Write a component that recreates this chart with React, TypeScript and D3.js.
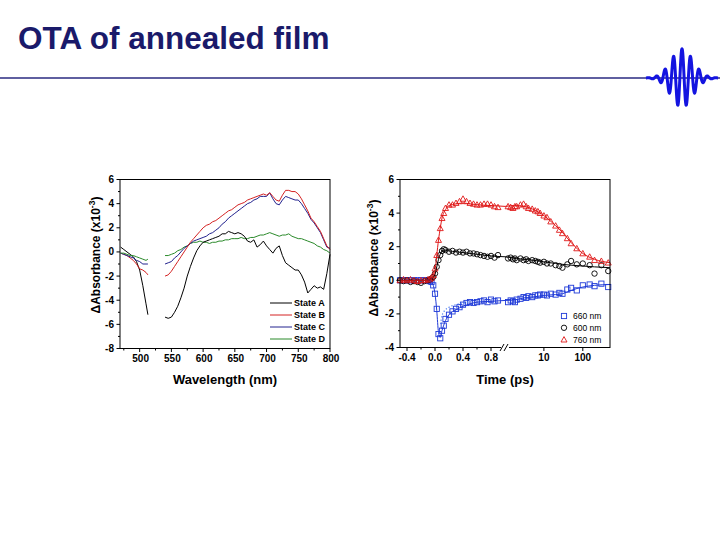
import React from "react";
import * as d3 from "d3";

// ---------- spectra (left panel) ----------
const wlSeg1 = [470, 475, 480, 485, 490, 495, 500, 505, 510, 513];
const wlSeg2 = d3.range(540, 801, 5);

const stateA1 = [0.4, 0.2, 0.0, -0.2, -0.4, -0.8, -1.5, -2.8, -4.3, -5.2];
const stateB1 = [-0.1, -0.2, -0.3, -0.5, -0.7, -1.0, -1.4, -1.5, -1.7, -1.9];
const stateC1 = [-0.1, -0.2, -0.3, -0.4, -0.5, -0.7, -0.8, -1.0, -1.0, -1.0];
const stateD1 = [-0.1, -0.1, -0.2, -0.3, -0.3, -0.4, -0.5, -0.6, -0.7, -0.6];

const stateA2 = [
  -5.4, -5.5, -5.4, -5.0, -4.5, -3.8, -3.0, -2.0, -1.2, -0.5, 0.1, 0.5, 0.8, 0.9, 1.0, 1.1, 1.2, 1.3,
  1.5, 1.5, 1.7, 1.6, 1.5, 1.6, 1.5, 1.3, 0.9, 0.8, 1.0, 0.4, 0.6, 0.9, 0.5, 0.2, -0.1, 0.3, 0.5,
  -0.3, -0.9, -1.1, -1.3, -1.5, -1.5, -1.9, -2.5, -3.4, -3.1, -2.8, -3.0, -2.9, -3.1, -1.8, -0.2,
];
const stateB2 = [
  -2.0, -1.9, -1.6, -1.2, -0.8, -0.4, 0.0, 0.4, 0.8, 1.1, 1.4, 1.7, 2.0, 2.2, 2.3, 2.5, 2.6, 2.8,
  3.0, 3.2, 3.4, 3.5, 3.7, 3.9, 4.0, 4.1, 4.3, 4.4, 4.5, 4.6, 4.7, 4.8, 4.7, 4.9, 4.6, 4.3, 4.2,
  4.7, 5.1, 5.1, 5.0, 5.0, 4.8, 4.4, 3.9, 3.4, 2.8, 2.5, 2.1, 1.7, 1.1, 0.5, 0.2,
];
const stateC2 = [
  -1.0, -0.9, -0.8, -0.5, -0.3, 0.0, 0.3, 0.5, 0.7, 0.9, 1.0, 1.1, 1.2, 1.3, 1.5, 1.6, 1.8, 2.0,
  2.3, 2.5, 2.8, 3.0, 3.2, 3.4, 3.6, 3.8, 4.0, 4.1, 4.3, 4.4, 4.6, 4.6, 4.6, 4.9, 4.4, 4.0, 3.9,
  4.3, 4.6, 4.5, 4.4, 4.3, 4.3, 4.0, 3.6, 3.2, 2.7, 2.4, 2.0, 1.6, 1.0, 0.4, 0.3,
];
const stateD2 = [
  -0.3, -0.3, -0.2, -0.1, 0.1, 0.2, 0.4, 0.5, 0.7, 0.8, 0.8, 0.9, 0.8, 0.8, 0.7, 0.8, 0.8, 0.9,
  0.9, 1.0, 1.0, 1.1, 1.1, 1.1, 1.2, 1.1, 1.1, 1.2, 1.2, 1.3, 1.4, 1.4, 1.5, 1.6, 1.5, 1.4, 1.3,
  1.4, 1.4, 1.5, 1.3, 1.2, 1.1, 1.1, 1.0, 0.9, 0.8, 0.7, 0.5, 0.4, 0.2, 0.1, -0.1,
];

const stateNames = ["State A", "State B", "State C", "State D"];
const stateColors = ["#000000", "#d42222", "#22228e", "#2a8a2a"];
const statesSeg1 = [stateA1, stateB1, stateC1, stateD1];
const statesSeg2 = [stateA2, stateB2, stateC2, stateD2];

const wlTicks = [500, 550, 600, 650, 700, 750, 800];
const absTicksLeft = [6, 4, 2, 0, -2, -4, -6, -8];

// ---------- kinetics (right panel) ----------
const tLin = [
  -0.5, -0.45, -0.4, -0.35, -0.3, -0.25, -0.2, -0.15, -0.1, -0.075, -0.05, -0.025, 0, 0.025, 0.05,
  0.075, 0.1, 0.125, 0.15, 0.2, 0.25, 0.3, 0.35, 0.4, 0.45, 0.5, 0.55, 0.6, 0.65, 0.7, 0.75, 0.8,
  0.85, 0.9,
];
const tLog = [
  1.2, 1.4, 1.6, 1.8, 2, 2.5, 3, 3.5, 4, 5, 6, 7, 8, 10, 12, 15, 20, 25, 30, 40, 50, 70, 100, 150,
  200, 300, 450,
];

const k760Lin = [
  0.0, 0.05, 0.0, 0.05, 0.0, -0.05, 0.0, 0.0, 0.05, 0.05, 0.15, 0.3, 0.7, 1.5, 2.4, 3.1, 3.7, 4.0,
  4.3, 4.5, 4.5, 4.6, 4.7, 4.85, 4.7, 4.6, 4.55, 4.5, 4.5, 4.55, 4.55, 4.5, 4.4, 4.35,
];
const k760Log = [
  4.4, 4.35, 4.3, 4.4, 4.4, 4.5, 4.55, 4.4, 4.3, 4.25, 4.15, 4.1, 4.0, 3.85, 3.75, 3.5, 3.25, 3.0,
  2.8, 2.5, 2.2, 1.9, 1.6, 1.4, 1.2, 1.15, 1.05,
];
const k600Lin = [
  0.0, -0.05, 0.0, -0.1, -0.05, -0.1, -0.15, -0.05, 0.0, 0.05, 0.1, 0.2, 0.4, 0.8, 1.2, 1.5, 1.75,
  1.85, 1.8, 1.7, 1.75, 1.65, 1.7, 1.65, 1.7, 1.6, 1.6, 1.55, 1.5, 1.45, 1.4, 1.45, 1.35, 1.5,
];
const k600Log = [
  1.3, 1.35, 1.25, 1.3, 1.2, 1.3, 1.2, 1.25, 1.15, 1.2, 1.15, 1.1, 1.05, 1.1, 1.0, 1.0, 0.9, 0.85,
  0.75, 0.95, 1.15, 0.95, 1.0, 0.9, 0.4, 0.9, 0.55,
];
const k660Lin = [
  0.0, 0.0, 0.0, 0.0, 0.0, 0.0, 0.0, 0.0, 0.0, -0.05, -0.1, -0.3, -0.8, -1.7, -3.2, -3.45, -3.0,
  -2.7, -2.3, -2.05, -1.85, -1.7, -1.6, -1.45, -1.35, -1.3, -1.35, -1.3, -1.25, -1.2, -1.3, -1.15,
  -1.25, -1.2,
];
const k660Log = [
  -1.3, -1.2, -1.25, -1.3, -1.15, -1.1, -1.0, -1.05, -0.95, -1.0, -0.9, -0.9, -0.85, -0.85, -0.9,
  -0.8, -0.85, -0.75, -0.8, -0.55, -0.45, -0.6, -0.3, -0.25, -0.35, -0.2, -0.4,
];

// fitted curves
const fitTLin = [-0.5, -0.1, -0.05, 0, 0.025, 0.05, 0.075, 0.1, 0.15, 0.2, 0.3, 0.4, 0.5, 0.6, 0.8, 1.0];
const fitTLog = [1, 2, 3, 5, 10, 20, 30, 50, 100, 200, 500];
const fit760Lin = [0, 0, 0.1, 0.6, 1.5, 2.4, 3.1, 3.7, 4.2, 4.45, 4.55, 4.6, 4.55, 4.5, 4.45, 4.4];
const fit760Log = [4.4, 4.45, 4.4, 4.25, 3.85, 3.25, 2.85, 2.25, 1.6, 1.25, 1.05];
const fit600Lin = [0, 0, 0.1, 0.35, 0.8, 1.25, 1.55, 1.75, 1.8, 1.75, 1.7, 1.65, 1.6, 1.55, 1.45, 1.4];
const fit600Log = [1.4, 1.3, 1.25, 1.2, 1.1, 1.0, 0.95, 0.9, 0.85, 0.8, 0.75];
const fit660Lin = [0, 0, -0.1, -0.8, -1.8, -3.1, -3.4, -3.0, -2.4, -2.05, -1.75, -1.55, -1.4, -1.3, -1.25, -1.2];
const fit660Log = [-1.2, -1.15, -1.05, -1.0, -0.9, -0.85, -0.8, -0.6, -0.4, -0.3, -0.25];
const fit660FastT = [0.08, 0.1, 0.15, 0.2, 0.3, 0.4, 0.5];
const fit660Fast = [-2.6, -2.1, -1.75, -1.6, -1.45, -1.35, -1.3];

const kinLabels = ["660 nm", "600 nm", "760 nm"];
const kinColors = ["#1f3ad8", "#000000", "#e01818"];
const tLinTicks = [-0.4, 0.0, 0.4, 0.8];
const tLogTicks = [10, 100];
const absTicksRight = [6, 4, 2, 0, -2, -4];

const FONT = "Liberation Sans, Arial, sans-serif";

function YTitle({ x, y }: { x: number; y: number }) {
  return (
    <text
      transform={`translate(${x},${y}) rotate(-90)`}
      textAnchor="middle"
      fontFamily={FONT}
      fontWeight="bold"
      fontSize={12}
      fill="#000"
    >
      ΔAbsorbance (x10
      <tspan dy={-5} fontSize={8.5}>
        -3
      </tspan>
      <tspan dy={5}>)</tspan>
    </text>
  );
}

function SpectraPanel() {
  const x = d3.scaleLinear().domain([469, 800]).range([120, 330]);
  const y = d3.scaleLinear().domain([-8, 6]).range([348.5, 179.5]);
  const line = d3
    .line<[number, number]>()
    .x((d) => x(d[0]))
    .y((d) => y(d[1]));
  const minorX = d3.range(475, 800, 25).filter((v) => v % 50 !== 0);
  const minorY = d3.range(-7, 6, 2);
  return (
    <g>
      {statesSeg1.map((vals, i) => (
        <path
          key={`s1-${i}`}
          d={line(wlSeg1.map((w, j) => [w, vals[j]]) as [number, number][]) || ""}
          fill="none"
          stroke={stateColors[i]}
          strokeWidth={1}
        />
      ))}
      {[3, 0, 2, 1].map((i) => (
        <path
          key={`s2-${i}`}
          d={line(wlSeg2.map((w, j) => [w, statesSeg2[i][j]]) as [number, number][]) || ""}
          fill="none"
          stroke={stateColors[i]}
          strokeWidth={1}
        />
      ))}
      <rect x={120} y={179.5} width={210} height={169} fill="none" stroke="#000" strokeWidth={1} />
      {wlTicks.map((t) => (
        <g key={`xt${t}`}>
          <line x1={x(t)} x2={x(t)} y1={348.5} y2={352} stroke="#000" />
          <text x={x(t) + 1} y={362} textAnchor="middle" fontFamily={FONT} fontWeight="bold" fontSize={10}>
            {t}
          </text>
        </g>
      ))}
      {minorX.map((t) => (
        <line key={`xm${t}`} x1={x(t)} x2={x(t)} y1={348.5} y2={350.5} stroke="#000" />
      ))}
      {absTicksLeft.map((t) => (
        <g key={`yt${t}`}>
          <line x1={116.5} x2={120} y1={y(t)} y2={y(t)} stroke="#000" />
          <text x={114} y={y(t) + 3.5} textAnchor="end" fontFamily={FONT} fontWeight="bold" fontSize={10}>
            {t}
          </text>
        </g>
      ))}
      {minorY.map((t) => (
        <line key={`ym${t}`} x1={118} x2={120} y1={y(t)} y2={y(t)} stroke="#000" />
      ))}
      {stateNames.map((n, i) => (
        <g key={n}>
          <line x1={270} x2={292} y1={303 + i * 12} y2={303 + i * 12} stroke={stateColors[i]} strokeWidth={1} />
          <text x={294} y={306.3 + i * 12} fontFamily={FONT} fontWeight="bold" fontSize={9}>
            {n}
          </text>
        </g>
      ))}
      <text x={225} y={384} textAnchor="middle" fontFamily={FONT} fontWeight="bold" fontSize={13}>
        Wavelength (nm)
      </text>
      <YTitle x={100} y={255} />
    </g>
  );
}

function KineticsPanel() {
  const xLin = d3.scaleLinear().domain([-0.5, 1.0]).range([400, 505]);
  const xLog = d3.scaleLog().domain([1, 500]).range([505, 610]);
  const xt = (t: number) => (t <= 1 ? xLin(t) : xLog(t));
  const y = d3.scaleLinear().domain([-4, 6]).range([347.5, 179.5]);
  const line = d3
    .line<[number, number]>()
    .x((d) => xt(d[0]))
    .y((d) => y(d[1]))
    .curve(d3.curveMonotoneX);
  const pts = (ts: number[], vs: number[]) => ts.map((t, i) => [t, vs[i]] as [number, number]);

  const series = [
    { lin: k660Lin, log: k660Log, fl: fit660Lin, fg: fit660Log, shape: "square" },
    { lin: k600Lin, log: k600Log, fl: fit600Lin, fg: fit600Log, shape: "circle" },
    { lin: k760Lin, log: k760Log, fl: fit760Lin, fg: fit760Log, shape: "triangle" },
  ];

  const marker = (shape: string, cx: number, cy: number, color: string, key: string) => {
    if (shape === "square")
      return <rect key={key} x={cx - 2.6} y={cy - 2.6} width={5.2} height={5.2} fill="none" stroke={color} strokeWidth={0.9} />;
    if (shape === "circle")
      return <circle key={key} cx={cx} cy={cy} r={2.7} fill="none" stroke={color} strokeWidth={0.9} />;
    return (
      <path
        key={key}
        d={`M${cx},${cy - 3} L${cx + 3},${cy + 2.4} L${cx - 3},${cy + 2.4} Z`}
        fill="none"
        stroke={color}
        strokeWidth={0.9}
      />
    );
  };

  const minorLin = [-0.2, 0.2, 0.6];
  const minorY = d3.range(-3, 6, 2);

  return (
    <g>
      {series.map((s, i) => (
        <g key={`m${i}`}>
          {pts(tLin, s.lin).map((d, j) => marker(s.shape, xt(d[0]), y(d[1]), kinColors[i], `a${j}`))}
          {pts(tLog, s.log).map((d, j) => marker(s.shape, xt(d[0]), y(d[1]), kinColors[i], `b${j}`))}
        </g>
      ))}
      {series.map((s, i) => (
        <g key={`f${i}`}>
          <path d={line(pts(fitTLin, s.fl)) || ""} fill="none" stroke={kinColors[i]} strokeWidth={1} />
          <path d={line(pts(fitTLog, s.fg)) || ""} fill="none" stroke={kinColors[i]} strokeWidth={1} />
        </g>
      ))}
      <path
        d={line(pts(fit660FastT, fit660Fast)) || ""}
        fill="none"
        stroke="#4a7cf0"
        strokeWidth={1.2}
        strokeDasharray="1.2,2"
      />
      <rect x={400} y={179.5} width={210} height={168} fill="none" stroke="#000" strokeWidth={1} />
      {/* axis break marks */}
      <rect x={501} y={344} width={8} height={8} fill="#fff" />
      <line x1={500} x2={504} y1={351} y2={344} stroke="#000" />
      <line x1={504} x2={508} y1={351} y2={344} stroke="#000" />
      {tLinTicks.map((t) => (
        <g key={`xl${t}`}>
          <line x1={xLin(t)} x2={xLin(t)} y1={347.5} y2={351} stroke="#000" />
          <text x={xLin(t)} y={361} textAnchor="middle" fontFamily={FONT} fontWeight="bold" fontSize={10}>
            {t.toFixed(1)}
          </text>
        </g>
      ))}
      {minorLin.map((t) => (
        <line key={`xml${t}`} x1={xLin(t)} x2={xLin(t)} y1={347.5} y2={349.5} stroke="#000" />
      ))}
      {tLogTicks.map((t) => (
        <g key={`xg${t}`}>
          <line x1={xLog(t)} x2={xLog(t)} y1={347.5} y2={351} stroke="#000" />
          <text x={xLog(t)} y={361} textAnchor="middle" fontFamily={FONT} fontWeight="bold" fontSize={10}>
            {t}
          </text>
        </g>
      ))}
      {absTicksRight.map((t) => (
        <g key={`yr${t}`}>
          <line x1={396.5} x2={400} y1={y(t)} y2={y(t)} stroke="#000" />
          <text x={394} y={y(t) + 3.5} textAnchor="end" fontFamily={FONT} fontWeight="bold" fontSize={10}>
            {t}
          </text>
        </g>
      ))}
      {minorY.map((t) => (
        <line key={`yrm${t}`} x1={398} x2={400} y1={y(t)} y2={y(t)} stroke="#000" />
      ))}
      {kinLabels.map((n, i) => (
        <g key={n}>
          {marker(series[i].shape, 564, 316 + i * 11.8, kinColors[i], `lg${i}`)}
          <text x={573} y={319 + i * 11.8} fontFamily={FONT} fontSize={8.5}>
            {n}
          </text>
        </g>
      ))}
      <text x={505} y={384} textAnchor="middle" fontFamily={FONT} fontWeight="bold" fontSize={13}>
        Time (ps)
      </text>
      <YTitle x={378} y={258} />
    </g>
  );
}

function WaveLogo() {
  // gaussian-enveloped oscillation sitting on the header rule
  const cx = 682;
  const ts = d3.range(-36, 36.01, 0.5);
  const path = d3
    .line<number>()
    .x((t) => cx + t)
    .y((t) => 78 - 30 * Math.exp(-(t * t) / (2 * 11 * 11)) * Math.cos((2 * Math.PI * t) / 8.5))
    .curve(d3.curveBasis)(ts);
  return <path d={path || ""} fill="none" stroke="#1414e0" strokeWidth={3} strokeLinejoin="round" />;
}

export default function App() {
  return (
    <svg
      width={720}
      height={540}
      viewBox="0 0 720 540"
      style={{ position: "absolute", left: 0, top: 0, background: "#fff" }}
    >
      <rect width={720} height={540} fill="#fff" />
      <text x={18} y={49} fontFamily={FONT} fontWeight="bold" fontSize={31.5} fill="#1a1a6a">
        OTA of annealed film
      </text>
      <line x1={0} x2={720} y1={78} y2={78} stroke="#2a2a80" strokeWidth={1.3} />
      <WaveLogo />
      <SpectraPanel />
      <KineticsPanel />
    </svg>
  );
}
